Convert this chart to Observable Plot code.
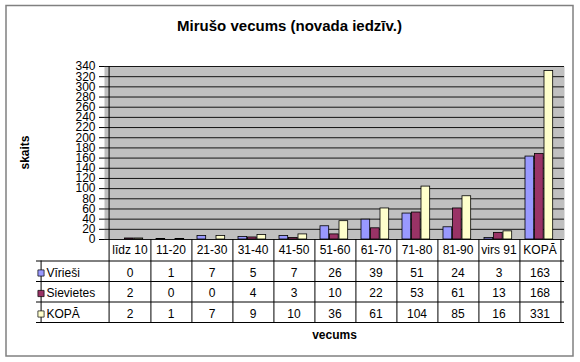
<!DOCTYPE html>
<html>
<head>
<meta charset="utf-8">
<script src="https://cdn.jsdelivr.net/npm/d3@7"></script>
<script src="https://cdn.jsdelivr.net/npm/@observablehq/plot@0.6"></script>
<style>
  html, body { margin: 0; padding: 0; background: #fff; }
</style>
</head>
<body>
<div id="chart"></div>
<script>
const title = "Mirušo vecums (novada iedzīv.)";
const yLabel = "skaits";
const xLabel = "vecums";
const categories = ["līdz 10", "11-20", "21-30", "31-40", "41-50", "51-60", "61-70", "71-80", "81-90", "virs 91", "KOPĀ"];
const seriesNames = ["Vīrieši", "Sievietes", "KOPĀ"];
const men = [0, 1, 7, 5, 7, 26, 39, 51, 24, 3, 163];
const women = [2, 0, 0, 4, 3, 10, 22, 53, 61, 13, 168];
const total = [2, 1, 7, 9, 10, 36, 61, 104, 85, 16, 331];
const yTicks = [0, 20, 40, 60, 80, 100, 120, 140, 160, 180, 200, 220, 240, 260, 280, 300, 320, 340];
const colors = ["#9999ff", "#993366", "#ffffcc"];

const seriesValues = [men, women, total];

// layout
const W = 580, H = 362;
const mt = 66, mb = 123, ml = 104, mr = 16;
const frameH = H - mt - mb;
const bw = (W - ml - mr) / categories.length;
const barW = 9.5, groupOffset = 6;
const labelColW = 68;
const textDy = [11, 33.5, 54, 74.5];
const lineDy = [21.5, 42, 62.5, 83];
const tableBottom = lineDy[lineDy.length - 1];

const rowsFor = (vals) => categories.map((c, j) => ({cat: c, value: vals[j]}));

const marks = [
  Plot.frame({fill: "#c0c0c0"}),
  Plot.gridY(yTicks, {stroke: "#000", strokeOpacity: 0.9}),
  ...seriesValues.map((vals, i) => Plot.barY(rowsFor(vals), {
    x: "cat", y: "value", fill: colors[i], stroke: "#000", strokeWidth: 0.8,
    insetLeft: groupOffset + i * barW,
    insetRight: bw - groupOffset - (i + 1) * barW
  })),
  Plot.axisY(yTicks, {tickSize: 5, tickPadding: 4, fontSize: 12, label: null}),
  // y axis line continuing into table
  Plot.ruleX([categories[0]], {x: d => d, dx: -bw / 2, insetBottom: -tableBottom, stroke: "#000"}),
  // column right boundaries
  Plot.ruleX(categories, {x: d => d, dx: bw / 2, insetTop: frameH, insetBottom: -tableBottom, stroke: "#000"}),
  // left edge of label column
  Plot.ruleX([categories[0]], {x: d => d, dx: -bw / 2 - labelColW, insetTop: frameH + lineDy[0], insetBottom: -tableBottom, stroke: "#000"}),
  // horizontal table lines
  ...lineDy.map(d => Plot.ruleY([0], {dy: d, insetLeft: -labelColW, stroke: "#000"})),
  // header
  Plot.text(categories, {x: d => d, text: d => d, frameAnchor: "bottom", lineAnchor: "middle", dy: textDy[0], fontSize: 12}),
  // values
  ...seriesValues.map((vals, i) => Plot.text(rowsFor(vals), {
    x: "cat", text: d => String(d.value), frameAnchor: "bottom", lineAnchor: "middle", dy: textDy[i + 1], fontSize: 12
  })),
  // legend keys + names
  ...seriesNames.map((s, i) => Plot.dot([s], {
    frameAnchor: "bottom-left", dx: -63.5, dy: textDy[i + 1], symbol: "square", r: 3.5,
    fill: colors[i], stroke: "#000", strokeWidth: 0.7
  })),
  ...seriesNames.map((s, i) => Plot.text([s], {
    frameAnchor: "bottom-left", lineAnchor: "middle", dx: -58, dy: textDy[i + 1], textAnchor: "start", text: d => d, fontSize: 12
  })),
  // titles
  Plot.text([title], {frameAnchor: "top", lineAnchor: "middle", text: d => d, dx: -45, dy: -40, fontSize: 15, fontWeight: "bold"}),
  Plot.text([yLabel], {frameAnchor: "left", textAnchor: "start", lineAnchor: "middle", text: d => d, dx: -79, dy: 16.5, rotate: -90, fontSize: 12, fontWeight: "bold"}),
  Plot.text([xLabel], {frameAnchor: "bottom", lineAnchor: "middle", text: d => d, dy: 96, fontSize: 12, fontWeight: "bold"}),
  // outer border
  Plot.frame({insetTop: -61, insetLeft: -98.5, insetRight: -8.5, insetBottom: -116.5, stroke: "#808080", strokeWidth: 1.5})
];

const chart = Plot.plot({
  width: W,
  height: H,
  marginTop: mt,
  marginBottom: mb,
  marginLeft: ml,
  marginRight: mr,
  style: {fontFamily: "'Liberation Sans', Arial, sans-serif", fontSize: "12px", background: "#fff", overflow: "visible"},
  x: {type: "band", domain: categories, padding: 0, axis: null},
  y: {domain: [0, 340], label: null, axis: null},
  marks
});
document.getElementById("chart").appendChild(chart);
</script>
</body>
</html>
